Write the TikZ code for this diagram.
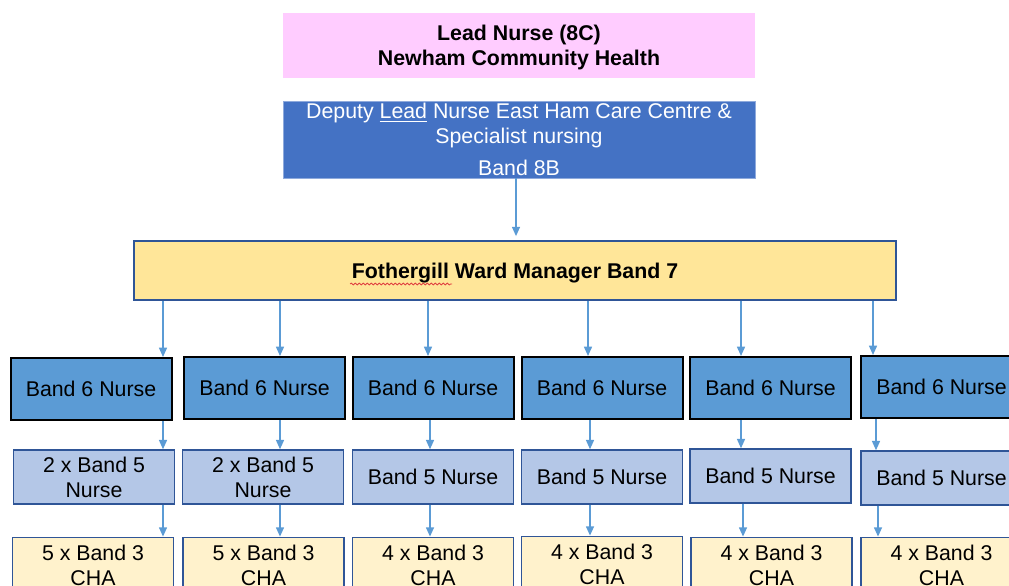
\documentclass[tikz,border=0pt]{standalone}
\usepackage{fontspec}
\setmainfont{Liberation Sans}
\usetikzlibrary{arrows.meta,decorations.pathmorphing}
\definecolor{leadpink}{HTML}{FFCCFF}
\definecolor{deputyblue}{HTML}{4472C4}
\definecolor{deputyedge}{HTML}{8FAADC}
\definecolor{wardyellow}{HTML}{FFE699}
\definecolor{nurseblue}{HTML}{5B9BD5}
\definecolor{nurselight}{HTML}{B4C7E7}
\definecolor{chacream}{HTML}{FFF2CC}
\definecolor{edgeblue}{HTML}{2F5597}
\definecolor{spellred}{HTML}{E04040}
\begin{document}
\begin{tikzpicture}[x=0.75pt, y=-0.75pt,
  every node/.style={font=\fontsize{16}{18.75}\selectfont, align=center, inner sep=0pt, text depth=0pt},
  lead box/.style={fill=leadpink, minimum width=354pt, minimum height=48.75pt, font=\fontsize{16}{18.75}\selectfont\bfseries},
  deputy box/.style={fill=deputyblue, draw=deputyedge, line width=0.5pt, text=white, minimum width=354pt, minimum height=57.75pt},
  ward box/.style={fill=wardyellow, draw=edgeblue, line width=1.3pt, minimum width=571.5pt, minimum height=44.25pt, font=\fontsize{16}{18.75}\selectfont\bfseries},
  band6 box/.style={fill=nurseblue, draw=black, line width=1.5pt, minimum width=120.75pt, minimum height=46.5pt},
  band5 box/.style={fill=nurselight, draw=edgeblue, line width=1.1pt, minimum width=120.75pt, minimum height=40.5pt},
  band3 box/.style={fill=chacream, draw=edgeblue, line width=1.1pt, minimum width=120.75pt, minimum height=41.5pt},
  arr/.style={draw=nurseblue, line width=1.1pt, -{Triangle[length=7pt,width=6pt]}}
]
\useasboundingbox (0,0) rectangle (1009,585);
% Top of the chart
\node[lead box] (lead) at (519,45.5) {Lead Nurse (8C)\\Newham Community Health};
\node[deputy box] (deputy) at (519,139.5) {Deputy \underline{Lead} Nurse East Ham Care Centre \&\\Specialist nursing\\[5pt]Band 8B};
\node[ward box] (fw) at (515,270.5) {Fothergill Ward Manager Band 7};
\draw[spellred, line width=0.6pt, decorate, decoration={snake, amplitude=0.7pt, segment length=3pt}] (350,284) -- (452,284);
% Band 6 nurses
\node[band6 box] (b6-1) at (91,389) {Band 6 Nurse};
\node[band6 box] (b6-2) at (264.5,388) {Band 6 Nurse};
\node[band6 box] (b6-3) at (433,388) {Band 6 Nurse};
\node[band6 box] (b6-4) at (602,388) {Band 6 Nurse};
\node[band6 box] (b6-5) at (770.5,388) {Band 6 Nurse};
\node[band6 box] (b6-6) at (941.5,387) {Band 6 Nurse};
% Band 5 nurses
\node[band5 box] (b5-1) at (94,477) {2 x Band 5\\Nurse};
\node[band5 box] (b5-2) at (263,477) {2 x Band 5\\Nurse};
\node[band5 box] (b5-3) at (433,477) {Band 5 Nurse};
\node[band5 box] (b5-4) at (602,477) {Band 5 Nurse};
\node[band5 box] (b5-5) at (770.5,476) {Band 5 Nurse};
\node[band5 box] (b5-6) at (941.5,478) {Band 5 Nurse};
% Band 3 CHAs
\node[band3 box] (b3-1) at (93,565) {5 x Band 3\\CHA};
\node[band3 box] (b3-2) at (263.5,565) {5 x Band 3\\CHA};
\node[band3 box] (b3-3) at (433,565) {4 x Band 3\\CHA};
\node[band3 box] (b3-4) at (602,564) {4 x Band 3\\CHA};
\node[band3 box] (b3-5) at (771.5,565) {4 x Band 3\\CHA};
\node[band3 box] (b3-6) at (941.5,565) {4 x Band 3\\CHA};
% Arrows
\draw[arr] (deputy.south -| 516,0) -- ([yshift=3pt]fw.north -| 516,0);
\foreach \i/\a/\b/\c in {1/163/163/163, 2/280/280/280, 3/428/430/430, 4/588/590/590, 5/741/741/743, 6/873/876/878} {
  \draw[arr] (fw.south -| \a,0) -- (b6-\i.north -| \a,0);
  \draw[arr] (b6-\i.south -| \b,0) -- (b5-\i.north -| \b,0);
  \draw[arr] (b5-\i.south -| \c,0) -- (b3-\i.north -| \c,0);
}
\end{tikzpicture}
\end{document}
